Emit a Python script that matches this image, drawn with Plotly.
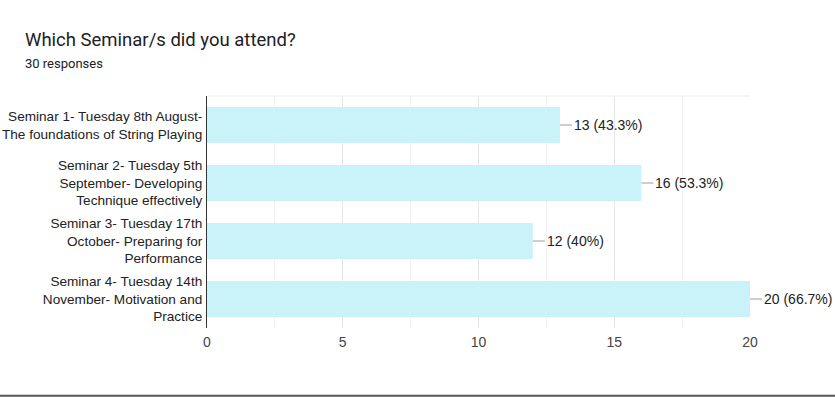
import plotly.graph_objects as go

categories = [
    "Seminar 1- Tuesday 8th August-<br>The foundations of String Playing",
    "Seminar 2- Tuesday 5th<br>September- Developing<br>Technique effectively",
    "Seminar 3- Tuesday 17th<br>October- Preparing for<br>Performance",
    "Seminar 4- Tuesday 14th<br>November- Motivation and<br>Practice",
]
counts = [13, 16, 12, 20]
percents = ["43.3%", "53.3%", "40%", "66.7%"]
x_ticks = [0, 5, 10, 15, 20]

fig = go.Figure(go.Bar(
    x=counts, y=categories, orientation="h",
    marker=dict(color="#c9f3f8", line=dict(width=0)),
    width=0.62, hoverinfo="skip",
))

for c, cat, p in zip(counts, categories, percents):
    fig.add_annotation(
        x=c, y=cat, xref="x", yref="y",
        text=f"{c} ({p})", showarrow=True, arrowhead=0, arrowwidth=1,
        arrowcolor="#9e9e9e", ax=12, ay=0, xanchor="left", standoff=0,
        font=dict(family="Liberation Sans, Arial", size=14, color="#222222"),
    )

fig.update_layout(
    width=835, height=398,
    margin=dict(l=207, r=85, t=96, b=70, autoexpand=False),
    paper_bgcolor="white", plot_bgcolor="white",
    showlegend=False,
    font=dict(family="Liberation Sans, Arial", size=14, color="#222222"),
    xaxis=dict(
        range=[0, 20], tickvals=x_ticks, showgrid=True, gridcolor="#e6e6e6",
        zeroline=False, showline=False, ticks="", automargin=False,
        tickfont=dict(size=14, color="#444444"), ticklabelstandoff=4,
        minor=dict(dtick=2.5, tick0=0, showgrid=True, gridcolor="#f2f2f2"),
    ),
    yaxis=dict(
        autorange="reversed", showline=True, linecolor="#333333", linewidth=1,
        ticks="", showgrid=False, tickfont=dict(size=13.6, color="#222222"),
        ticklabelstandoff=1, automargin=False,
    ),
    shapes=[
        dict(type="line", xref="paper", yref="paper", x0=0, x1=1, y0=1, y1=1,
             line=dict(color="#ebebeb", width=1)),
        dict(type="line", xref="paper", yref="paper", x0=-0.4, x1=1.2,
             y0=-0.292, y1=-0.292, line=dict(color="#555555", width=2)),
    ],
)

fig.add_annotation(
    x=-0.339, y=1.241, xref="paper", yref="paper", xanchor="left", yanchor="middle",
    text="Which Seminar/s did you attend?", showarrow=False,
    font=dict(family="Roboto, Arial", size=18.5, color="#202124"),
)
fig.add_annotation(
    x=-0.339, y=1.142, xref="paper", yref="paper", xanchor="left", yanchor="middle",
    text="30 responses", showarrow=False,
    font=dict(family="Roboto, Arial", size=13, color="#202124"),
)

fig.write_html(
    "out.html",
    config={"displayModeBar": False},
    post_script="document.body.style.margin='0';document.body.style.overflow='hidden';",
)
